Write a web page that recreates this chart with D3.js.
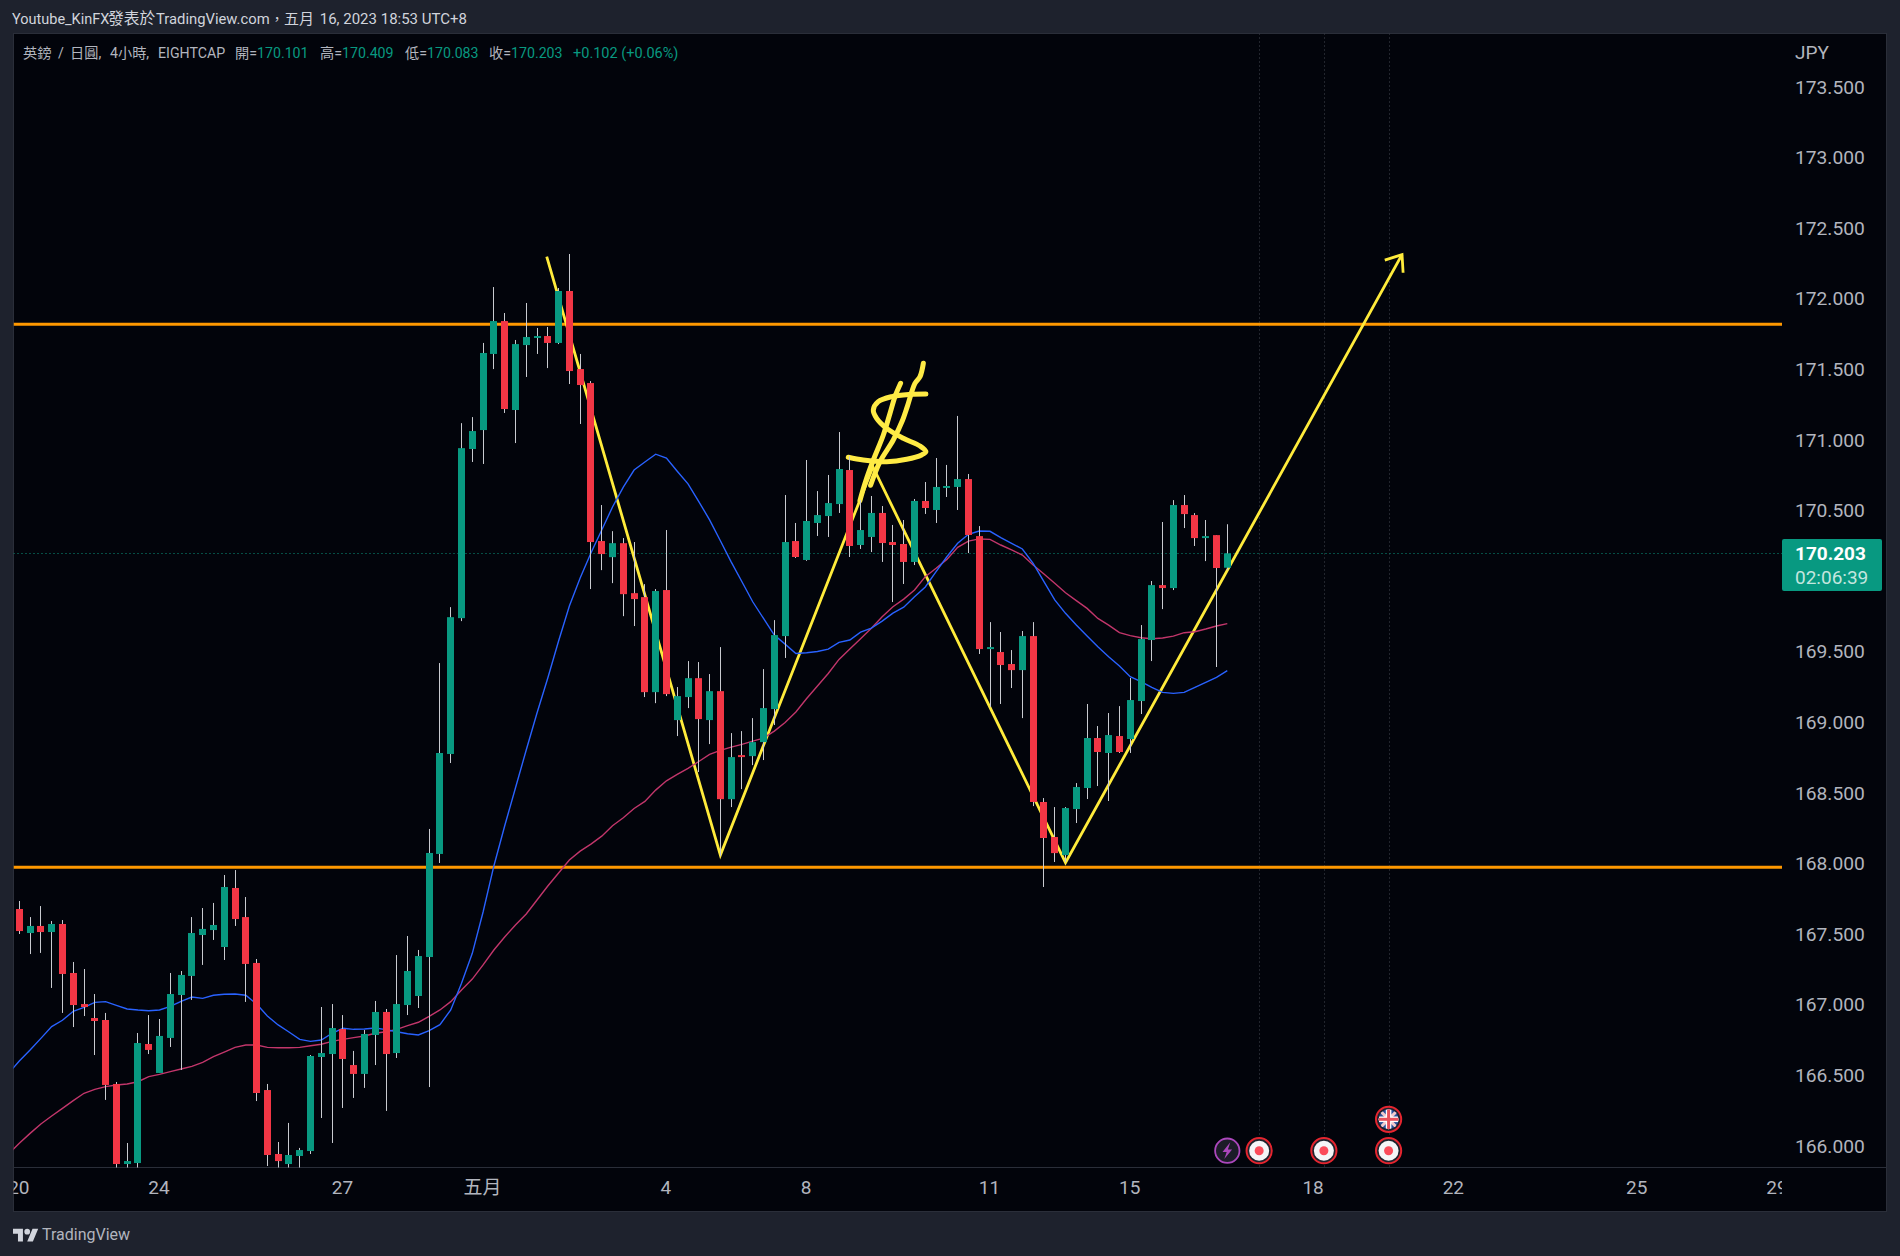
<!DOCTYPE html>
<html>
<head>
<meta charset="utf-8">
<script src="https://cdn.jsdelivr.net/npm/d3@7/dist/d3.min.js"></script>
<style>
html,body{margin:0;padding:0;background:#1e222d;overflow:hidden}
svg{display:block}
text{font-family:Roboto,"Noto Sans CJK TC",sans-serif}
</style>
</head>
<body>
<svg id="c" width="1900" height="1256"></svg>
<script>
const opens=[167.684,167.514,167.564,167.521,167.578,167.231,167.011,166.912,166.898,166.445,165.878,165.885,166.728,166.523,166.771,167.075,167.210,167.500,167.535,167.415,167.833,167.627,167.302,166.402,165.949,165.878,165.935,165.970,166.636,166.657,166.834,166.579,166.516,166.792,166.955,166.664,167.004,167.068,167.344,168.074,168.782,169.744,170.942,171.076,171.615,171.848,171.218,171.678,171.728,171.742,171.693,172.061,171.508,171.409,170.290,170.176,170.275,169.921,169.893,169.220,169.943,169.022,169.185,169.319,169.022,169.227,168.462,168.774,168.767,168.866,169.100,169.617,170.290,170.156,170.418,170.467,170.552,170.793,170.262,170.319,170.489,170.283,170.269,170.142,170.574,170.510,170.666,170.673,170.729,170.325,169.525,169.504,169.419,169.376,169.617,168.442,168.194,168.066,168.392,168.541,168.895,168.789,168.909,168.888,169.157,169.589,169.978,169.957,170.545,170.474,170.311,170.332,170.101];
const highs=[167.741,167.627,167.705,167.599,167.606,167.309,167.259,167.082,166.948,166.459,166.027,166.806,166.933,166.905,167.231,167.245,167.627,167.691,167.727,167.925,167.960,167.769,167.330,166.445,166.034,166.169,165.992,166.650,166.990,167.011,166.933,166.679,166.827,167.033,166.976,167.358,167.493,167.394,168.251,169.426,169.822,171.125,171.168,171.693,172.089,171.905,171.714,171.976,171.799,171.806,172.082,172.323,171.615,171.423,170.545,170.360,170.311,170.283,169.985,169.950,170.368,169.256,169.440,169.433,169.348,169.539,168.930,168.944,169.036,169.383,169.730,170.616,170.418,170.864,170.644,170.758,171.062,170.892,170.581,170.609,170.538,170.404,170.439,170.588,170.708,170.878,170.829,171.176,170.765,170.396,169.716,169.646,169.518,169.653,169.716,168.470,168.406,168.406,168.576,169.136,168.980,169.072,169.121,169.320,169.695,170.007,170.425,170.580,170.616,170.488,170.439,170.332,170.409];
const lows=[167.507,167.365,167.373,167.125,166.948,166.848,166.926,166.650,166.332,165.85,165.85,165.85,166.657,166.523,166.707,166.544,167.040,167.288,167.465,167.323,167.564,167.026,166.324,165.864,165.85,165.85,165.85,165.949,166.204,166.027,166.275,166.346,166.417,166.579,166.254,166.629,166.933,166.983,166.423,168.010,168.718,169.723,170.850,170.836,171.508,171.197,170.984,171.452,171.615,171.515,171.685,171.402,171.119,169.950,170.084,169.992,169.758,169.688,169.185,169.142,169.192,168.909,169.107,168.654,168.852,168.059,168.406,168.533,168.703,168.739,168.987,169.462,170.170,170.150,170.326,170.319,170.489,170.177,170.234,170.212,170.142,169.858,169.986,170.120,170.482,170.418,170.602,170.510,170.205,169.490,169.114,169.136,169.249,169.036,168.413,167.840,168.017,168.017,168.293,168.463,168.555,168.449,168.789,168.789,169.065,169.440,169.808,169.943,170.382,170.255,170.148,169.398,170.083];
const closes=[167.528,167.564,167.521,167.578,167.224,167.004,166.990,166.891,166.438,165.878,165.899,166.735,166.686,166.785,167.082,167.217,167.514,167.543,167.571,167.840,167.613,167.295,166.381,165.942,165.899,165.942,165.977,166.643,166.664,166.841,166.622,166.516,166.799,166.955,166.657,167.011,167.245,167.351,168.081,168.789,169.751,170.948,171.069,171.622,171.848,171.225,171.685,171.735,171.742,171.693,172.061,171.494,171.395,170.283,170.198,170.275,169.914,169.879,169.220,169.936,169.206,169.192,169.319,169.029,169.227,168.462,168.760,168.760,168.866,169.107,169.624,170.283,170.177,170.432,170.474,170.559,170.800,170.255,170.368,170.489,170.276,170.262,170.142,170.574,170.524,170.673,170.680,170.729,170.333,169.525,169.539,169.412,169.376,169.617,168.442,168.187,168.080,168.399,168.548,168.895,168.796,168.916,168.796,169.164,169.596,169.978,169.957,170.545,170.481,170.311,170.325,170.099,170.203];
// moving averages: first entry is the bar just left of the visible range
const blueMA=[166.520,166.608,166.686,166.768,166.851,166.896,166.960,166.988,167.023,167.028,167.002,166.976,166.969,166.964,166.969,166.995,167.030,167.061,167.051,167.073,167.080,167.082,167.073,167.011,166.926,166.863,166.813,166.761,166.747,166.756,166.804,166.839,166.832,166.834,166.841,166.830,166.815,166.801,166.792,166.823,166.865,166.969,167.158,167.370,167.663,167.989,168.272,168.541,168.810,169.072,169.320,169.582,169.830,170.028,170.205,170.368,170.531,170.672,170.793,170.850,170.905,170.877,170.784,170.695,170.57,170.44,170.292,170.143,170.002,169.860,169.742,169.624,169.560,169.494,169.499,169.508,169.525,169.572,169.589,169.645,169.673,169.723,169.780,169.822,169.896,169.965,170.073,170.179,170.274,170.338,170.361,170.359,170.314,170.274,170.234,170.132,170.002,169.873,169.778,169.695,169.617,169.542,169.471,169.405,169.329,169.294,169.254,169.218,169.211,169.218,169.254,169.289,169.324,169.372];
const pinkMA=[165.949,166.025,166.095,166.162,166.218,166.272,166.327,166.379,166.407,166.426,166.438,166.445,166.461,166.497,166.513,166.532,166.551,166.570,166.598,166.638,166.671,166.704,166.721,166.721,166.704,166.702,166.702,166.704,166.716,166.726,166.747,166.761,166.773,166.785,166.804,166.815,166.832,166.858,166.882,166.924,166.969,167.028,167.111,167.188,167.288,167.394,167.486,167.571,167.649,167.748,167.847,167.939,168.031,168.094,168.144,168.200,168.274,168.330,168.396,168.446,168.526,168.592,168.637,168.680,168.729,168.779,168.807,168.831,168.850,168.873,168.894,168.944,169.005,169.079,169.175,169.263,169.352,169.452,169.525,169.598,169.673,169.754,169.825,169.879,169.943,170.038,170.097,170.160,170.245,170.290,170.305,170.302,170.262,170.227,170.191,170.120,170.057,169.991,169.924,169.868,169.813,169.742,169.695,169.641,169.620,169.605,169.598,169.603,169.617,169.641,169.648,169.667,169.688,169.705];
const levels=[167.979,171.825];
const lastPrice=170.203;
const priceTicks=[166,166.5,167,167.5,168,168.5,169,169.5,170.5,171,171.5,172,172.5,173,173.5];
const dateTickBars=[0,13,30,43,60,73,90,103,120,133,150,163];
const dateTickLabels=["20","24","27","五月","4","8","11","15","18","22","25","29"];
// hand-drawn pattern: [bar position, price]
const zigzag=[[48.9,172.304],[65,168.066],[79.15,170.815],[97,168.012],[128.2,172.319]];
const arrowHead=[[126.6,172.28],[128.2,172.319],[128.3,172.19]];
const dollarA=[[76.86,170.883],[78.25,170.864],[80.42,170.852],[82.27,170.869],[83.66,170.900],[84.06,170.923],[83.51,170.963],[81.96,171.018],[80.42,171.088],[79.49,171.159],[79.18,171.218],[79.64,171.277],[80.88,171.313],[82.58,171.329],[84.06,171.332]];
const dollarB=[[77.94,170.576],[78.41,170.699],[79.18,170.864],[80.11,171.041],[80.73,171.195],[81.19,171.313],[81.71,171.407]];
const dollarC=[[78.93,170.685],[79.80,170.852],[81.03,171.006],[81.90,171.147],[82.33,171.242],[83.04,171.407],[83.51,171.454],[83.82,171.549]];
const eventBars=[115,121,127];
const lightningBar=112;
const flagBar=127;
const titleParts=[["Youtube_KinFX",12,14.5],["發表於",108,15.8],["TradingView.com",156,14.8],["，",270,14],["五月",284,15],[" 16, 2023 18:53 UTC+8",316,15]];
const legendHead=[["英鎊",23],["/",58],["日圓,",70],["4小時,",110],["EIGHTCAP",158]];
const legendLabels=["開=","高=","低=","收="];
const legendValues=["170.101","170.409","170.083","170.203"];
const legendChange="+0.102 (+0.06%)";

const UP="#089981",DOWN="#f23645",BG="#02040b",PANEL="#1e222d",BORDER="#2a2e39",TXT="#b2b5be";
const L=13.5,R=1782,T=33.5,B=1167.5,OR=1886.5,OB=1211.5;
const svg=d3.select("#c");
const x=d3.scaleLinear().domain([0,112]).range([19.3,1227.3]);
const y=d3.scaleLinear().domain([166,173.5]).range([1146.8,87.8]);
const defs=svg.append("defs");
defs.append("clipPath").attr("id","pane").append("rect").attr("x",L).attr("y",T).attr("width",R-L).attr("height",B-T);
defs.append("clipPath").attr("id","tscale").append("rect").attr("x",L).attr("y",B).attr("width",R-L).attr("height",OB-B);

svg.append("rect").attr("width",1900).attr("height",1256).attr("fill",PANEL);
svg.append("rect").attr("x",L).attr("y",T).attr("width",OR-L).attr("height",OB-T).attr("fill",BG).attr("stroke",BORDER).attr("stroke-width",1);
svg.append("line").attr("x1",L).attr("x2",OR).attr("y1",B).attr("y2",B).attr("stroke",BORDER);

const pane=svg.append("g").attr("clip-path","url(#pane)");
// event verticals
pane.selectAll(".ev").data(eventBars).join("line").attr("x1",d=>Math.floor(x(d))+.5).attr("x2",d=>Math.floor(x(d))+.5)
 .attr("y1",T).attr("y2",B).attr("stroke","#434651").attr("stroke-dasharray","1 3").attr("stroke-width",1);
// horizontal levels
pane.selectAll(".lvl").data(levels).join("line").attr("x1",L).attr("x2",R)
 .attr("y1",d=>y(d)).attr("y2",d=>y(d)).attr("stroke","#ff9800").attr("stroke-width",3);
// last price line
pane.append("line").attr("x1",L).attr("x2",R).attr("y1",Math.round(y(lastPrice))+.5).attr("y2",Math.round(y(lastPrice))+.5)
 .attr("stroke",UP).attr("stroke-dasharray","1 3").attr("stroke-width",1);
// drawing
const lineXY=d3.line().x(d=>x(d[0])).y(d=>y(d[1]));
const smooth=d3.line().x(d=>x(d[0])).y(d=>y(d[1])).curve(d3.curveCatmullRom);
pane.append("path").attr("d",lineXY(zigzag)).attr("fill","none").attr("stroke","#ffeb3b").attr("stroke-width",2.8);
pane.append("path").attr("d",lineXY(arrowHead)).attr("fill","none").attr("stroke","#ffeb3b").attr("stroke-width",2.8);
[dollarA,dollarB,dollarC].forEach(s=>pane.append("path").attr("d",smooth(s)).attr("fill","none")
 .attr("stroke","#ffeb45").attr("stroke-width",5).attr("stroke-linecap","round").attr("stroke-linejoin","round"));
// moving averages
const ma=d3.line().x((d,i)=>x(i-1)).y(d=>y(d));
pane.append("path").attr("d",ma(pinkMA)).attr("fill","none").attr("stroke","#c2366b").attr("stroke-width",1.4);
pane.append("path").attr("d",ma(blueMA)).attr("fill","none").attr("stroke","#2962ff").attr("stroke-width",1.4);
// candles
const bars=opens.map((o,i)=>({i,o,h:highs[i],l:lows[i],c:closes[i]}));
const cg=pane.selectAll(".bar").data(bars).join("g");
cg.append("line").attr("x1",d=>Math.floor(x(d.i))+.5).attr("x2",d=>Math.floor(x(d.i))+.5)
 .attr("y1",d=>y(d.h)).attr("y2",d=>y(d.l)).attr("stroke","#c9cbd0").attr("stroke-width",1);
cg.append("rect").attr("x",d=>Math.floor(x(d.i))-3).attr("width",7)
 .attr("y",d=>y(Math.max(d.o,d.c))).attr("height",d=>Math.max(1.5,Math.abs(y(d.o)-y(d.c))))
 .attr("fill",d=>d.c>=d.o?UP:DOWN);

// events
const evY=1150.7,flagY=1119.3;
function ring(g,cx,cy,stroke){g.append("circle").attr("cx",cx).attr("cy",cy).attr("r",12.6).attr("fill","#1e222d").attr("stroke",stroke).attr("stroke-width",2);}
eventBars.forEach(b=>{const cx=x(b)-.5;ring(svg,cx,evY,"#e5252f");
 svg.append("circle").attr("cx",cx).attr("cy",evY).attr("r",10).attr("fill","#f5f5f7");
 svg.append("circle").attr("cx",cx).attr("cy",evY).attr("r",4.5).attr("fill","#fb4b5a");});
{const cx=x(lightningBar);svg.append("circle").attr("cx",cx).attr("cy",evY).attr("r",12.2).attr("fill","#1c1c28").attr("stroke","#ab47bc").attr("stroke-width",1.8);
 svg.append("path").attr("transform",`translate(${cx},${evY}) scale(1.2)`).attr("d","M2.5,-7 L-4,1 L-0.5,1 L-2.5,7 L4,-1 L0.5,-1 Z").attr("fill","#ab47bc");}
{const cx=x(flagBar)-.5;ring(svg,cx,flagY,"#e5252f");
 defs.append("clipPath").attr("id","flag").append("circle").attr("cx",cx).attr("cy",flagY).attr("r",10);
 const f=svg.append("g").attr("clip-path","url(#flag)");
 f.append("rect").attr("x",cx-11).attr("y",flagY-11).attr("width",22).attr("height",22).attr("fill","#27509b");
 [[-11,-11,11,11],[-11,11,11,-11]].forEach(s=>{f.append("line").attr("x1",cx+s[0]).attr("y1",flagY+s[1]).attr("x2",cx+s[2]).attr("y2",flagY+s[3]).attr("stroke","#f2c9cc").attr("stroke-width",3);});
 f.append("rect").attr("x",cx-11).attr("y",flagY-2.8).attr("width",22).attr("height",5.6).attr("fill","#fff");
 f.append("rect").attr("x",cx-2.8).attr("y",flagY-11).attr("width",5.6).attr("height",22).attr("fill","#fff");
 f.append("rect").attr("x",cx-11).attr("y",flagY-1.5).attr("width",22).attr("height",3).attr("fill","#e8505b");
 f.append("rect").attr("x",cx-1.5).attr("y",flagY-11).attr("width",3).attr("height",22).attr("fill","#e8505b");}

// axes
const yAxis=d3.axisRight(y).tickValues(priceTicks).tickFormat(d3.format(".3f")).tickSize(0).tickPadding(0);
const ya=svg.append("g").attr("transform","translate(1795,0)").call(yAxis);
ya.select(".domain").remove();
ya.selectAll("text").attr("font-size",19.2).attr("fill",TXT).attr("font-family","Roboto").attr("dy",".28em");

const xAxis=d3.axisBottom(x).tickValues(dateTickBars).tickFormat((d,i)=>dateTickLabels[i]).tickSize(0).tickPadding(0);
const xa=svg.append("g").attr("clip-path","url(#tscale)").append("g").attr("transform","translate(-1,1181)").call(xAxis);
xa.select(".domain").remove();
xa.selectAll("text").attr("font-size",19).attr("fill",TXT).attr("font-family","Roboto,'Noto Sans CJK TC'").attr("dy","0.7em");

// price label
svg.append("rect").attr("x",1782).attr("y",539).attr("width",100).attr("height",52).attr("rx",2).attr("fill",UP);
svg.append("text").attr("x",1795).attr("y",560).attr("font-size",19).attr("font-weight",700).attr("fill","#fff").text(lastPrice.toFixed(3));
svg.append("text").attr("x",1795).attr("y",583.5).attr("font-size",19).attr("fill","#c4e6df").text("02:06:39");
svg.append("text").attr("x",1795).attr("y",59).attr("font-size",19).attr("fill",TXT).text("JPY");

// header
const tt=svg.append("text").attr("y",24).attr("fill","#d1d4dc");
titleParts.forEach(p=>tt.append("tspan").attr("x",p[1]).attr("font-size",p[2]).text(p[0]));
const lh=svg.append("text").attr("y",58).attr("fill",TXT).attr("font-size",14.2);
legendHead.forEach(p=>lh.append("tspan").attr("x",p[1]).text(p[0]));
const lx=[235,320,405,489];
legendLabels.forEach((t,i)=>{const e=svg.append("text").attr("x",lx[i]).attr("y",58).attr("font-size",14.2);
 e.append("tspan").attr("fill",TXT).text(t);
 e.append("tspan").attr("fill",UP).text(legendValues[i]);});
svg.append("text").attr("x",573).attr("y",58).attr("font-size",14.5).attr("fill",UP).text(legendChange);

// footer
const logo=svg.append("g").attr("transform","translate(13,1226) scale(0.71)").attr("fill","#d1d4dc");
logo.append("path").attr("d","M14 22H7V11H0V4h14v18zM28 22h-8l7.5-18h8L28 22z");
logo.append("circle").attr("cx",20).attr("cy",8).attr("r",4);
svg.append("text").attr("x",42).attr("y",1240).attr("font-size",16).attr("fill",TXT).text("TradingView");
</script>
</body>
</html>
